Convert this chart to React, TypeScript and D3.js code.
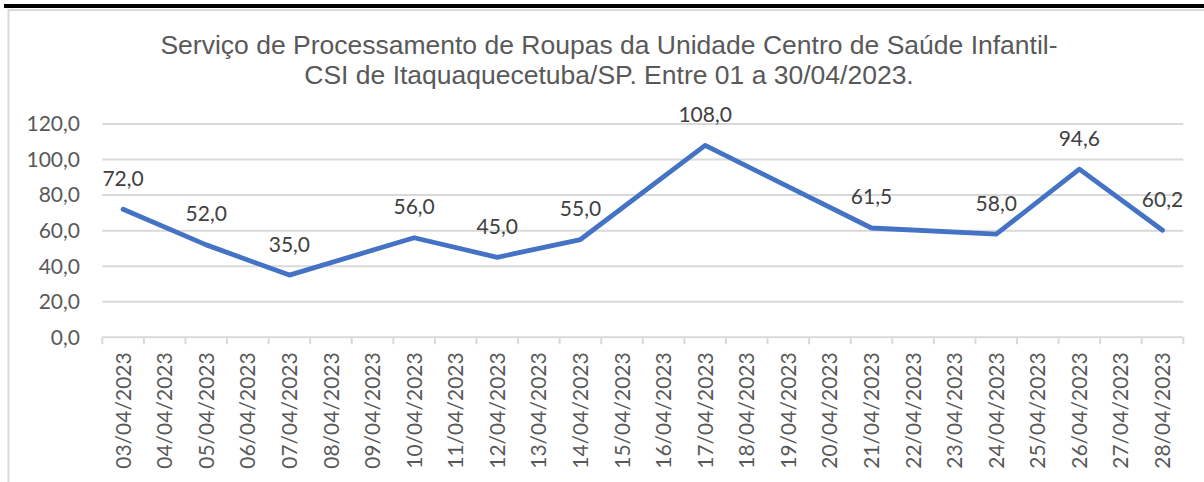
import React from "react";
import * as d3 from "d3";

const titleLines = [
  "Serviço de Processamento de Roupas da Unidade Centro de Saúde Infantil-",
  "CSI de Itaquaquecetuba/SP. Entre 01 a 30/04/2023.",
];

const dates = [
  "03/04/2023", "04/04/2023", "05/04/2023", "06/04/2023", "07/04/2023",
  "08/04/2023", "09/04/2023", "10/04/2023", "11/04/2023", "12/04/2023",
  "13/04/2023", "14/04/2023", "15/04/2023", "16/04/2023", "17/04/2023",
  "18/04/2023", "19/04/2023", "20/04/2023", "21/04/2023", "22/04/2023",
  "23/04/2023", "24/04/2023", "25/04/2023", "26/04/2023", "27/04/2023",
  "28/04/2023",
];

const values: (number | null)[] = [
  72, null, 52, null, 35, null, null, 56, null, 45, null, 55, null, null, 108,
  null, null, null, 61.5, null, null, 58, null, 94.6, null, 60.2,
];

const yTicks = [0, 20, 40, 60, 80, 100, 120];

const W = 1204;
const H = 482;
const plot = { left: 102.3, right: 1183.3, top: 124, bottom: 337.3 };
const fmt = (v: number) => d3.format(".1f")(v).replace(".", ",");
const labelFont = "Lato, 'Open Sans', sans-serif";

export default function App() {
  const x = d3.scaleBand<string>().domain(dates).range([plot.left, plot.right]).padding(0);
  const y = d3.scaleLinear().domain([0, 120]).range([plot.bottom, plot.top]);
  const pts = dates
    .map((d, i) => ({ d, v: values[i] }))
    .filter((p) => p.v !== null) as { d: string; v: number }[];
  const cx = (d: string) => (x(d) as number) + x.bandwidth() / 2;
  const line = d3
    .line<{ d: string; v: number }>()
    .x((p) => cx(p.d))
    .y((p) => y(p.v));
  const boundaries = dates.map((d) => x(d) as number).concat([plot.right]);

  return (
    <svg
      width={W}
      height={H}
      style={{ position: "fixed", left: 0, top: 0, display: "block", background: "#fff" }}
    >
      <rect x={0} y={0} width={W} height={H} fill="#fff" />
      <rect x={4} y={4} width={W} height={4} fill="#000" />
      <rect x={8.5} y={10} width={W + 20} height={H + 20} fill="none" stroke="#d9d9d9" strokeWidth={2} />
      <g fontFamily="'Liberation Sans', Arial, sans-serif" fontSize={26.5} fill="#595959" textAnchor="middle">
        {titleLines.map((t, i) => (
          <text key={i} x={609} y={54 + i * 30}>
            {t}
          </text>
        ))}
      </g>
      <g>
        {yTicks.map((t) => (
          <line key={t} x1={plot.left} x2={plot.right} y1={y(t)} y2={y(t)} stroke="#d9d9d9" strokeWidth={2} />
        ))}
        {boundaries.map((bx, i) => (
          <line key={i} x1={bx} x2={bx} y1={plot.bottom} y2={plot.bottom + 7} stroke="#d9d9d9" strokeWidth={2} />
        ))}
      </g>
      <g fontFamily={labelFont} fontSize={21} fill="#595959" textAnchor="end">
        {yTicks.map((t) => (
          <text key={t} x={80} y={y(t)} dy="0.35em">
            {fmt(t)}
          </text>
        ))}
      </g>
      <g fontFamily={labelFont} fontSize={21} fill="#595959" textAnchor="end">
        {dates.map((d) => (
          <text key={d} transform={`translate(${cx(d)},${plot.bottom + 15}) rotate(-90)`} dy="0.36em">
            {d}
          </text>
        ))}
      </g>
      <path
        d={line(pts) || ""}
        fill="none"
        stroke="#4472C4"
        strokeWidth={4.8}
        strokeLinejoin="round"
        strokeLinecap="round"
      />
      <g fontFamily={labelFont} fontSize={21} fill="#404040" textAnchor="middle">
        {pts.map((p) => (
          <text key={p.d} x={cx(p.d)} y={y(p.v) - 23.5}>
            {fmt(p.v)}
          </text>
        ))}
      </g>
    </svg>
  );
}
